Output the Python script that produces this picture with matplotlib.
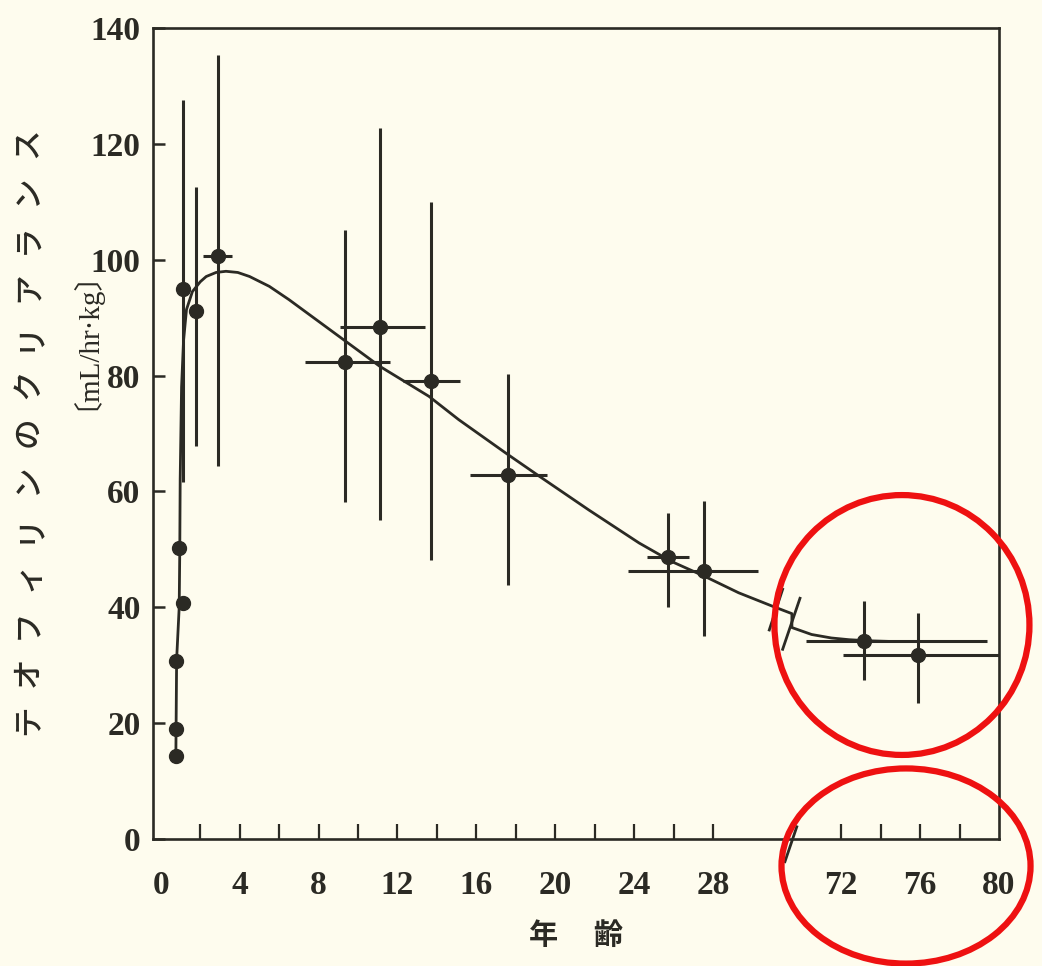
import numpy as np
import matplotlib.pyplot as plt
from matplotlib.patches import Ellipse
from matplotlib.lines import Line2D

# Datos (edad en anos, clearance en mL/hr/kg)
infant_age = [0.76, 0.76, 0.76, 0.93, 1.13]
infant_cl = [14.3, 19.0, 30.7, 50.2, 40.8]

group_age = [1.10, 1.77, 2.91, 9.33, 11.1, 13.68, 17.58, 25.73, 27.55, 73.15, 75.9]
group_cl = [94.9, 91.1, 100.6, 82.3, 88.3, 79.1, 62.9, 48.7, 46.3, 34.1, 31.8]
cl_low = [61.7, 67.8, 64.4, 58.2, 55.1, 48.2, 43.9, 40.0, 35.0, 27.5, 23.5]
cl_high = [127.6, 112.6, 135.4, 105.2, 122.8, 110.0, 80.3, 56.2, 58.3, 41.0, 39.0]
age_low = [1.10, 1.77, 2.15, 7.30, 9.08, 12.27, 15.70, 24.63, 23.67, 70.24, 72.1]
age_high = [1.10, 1.77, 3.59, 11.61, 13.39, 15.16, 19.59, 26.79, 30.29, 79.37, 80.0]

# Curva ajustada (puntos leidos)
curve_age = [0.76, 0.80, 0.93, 0.96, 0.98, 1.05, 1.15, 1.3, 1.6, 2.0, 2.3, 2.8, 3.3, 3.9, 4.5,
             5.5, 6.5, 9.06, 11.1, 13.6, 15.1, 17.5, 19.2, 21.7, 24.25, 25.9, 27.6, 29.3,
             31.0, 32.0, 69.5, 70.5, 71.5, 72.4, 73.5, 74.5]
curve_cl = [14.0, 31.0, 40.0, 50.0, 62.0, 78.0, 86.0, 91.4, 94.5, 96.2, 97.1, 97.8, 98.0,
            97.8, 97.1, 95.4, 93.1, 86.7, 81.6, 76.4, 72.4, 66.6, 62.6, 56.8, 51.1, 47.9,
            45.3, 42.5, 40.2, 38.9, 36.5, 35.3, 34.7, 34.4, 34.2, 34.1]

xtick_labels = [0, 4, 8, 12, 16, 20, 24, 28, 72, 76, 80]
xtick_marks = [2, 4, 6, 8, 10, 12, 14, 16, 18, 20, 22, 24, 26, 28, 72, 74, 76, 78]
yticks = [0, 20, 40, 60, 80, 100, 120, 140]

# Eje x cortado entre 32 y 69.5
cut_a = 32.0
cut_b = 69.5
shift = cut_b - cut_a


def fwd(x):
    x = np.asarray(x, dtype=float)
    return np.where(x <= cut_a, x, np.where(x >= cut_b, x - shift, cut_a))


def inv(y):
    y = np.asarray(y, dtype=float)
    return np.where(y <= cut_a, y, y + shift)


bg = '#fefcee'
ink = '#2b2a24'
serif = ['Liberation Serif', 'DejaVu Serif']
cjk = ['Noto Sans CJK JP', 'DejaVu Sans']

fig = plt.figure(figsize=(10.42, 9.66), dpi=100)
fig.patch.set_facecolor(bg)
ax = fig.add_axes([0.1468, 0.1315, 0.8119, 0.8395])
ax.set_facecolor(bg)
ax.set_xscale('function', functions=(fwd, inv))
ax.set_xlim(-0.4, 80)
ax.set_ylim(0, 140)

for s in ax.spines.values():
    s.set_linewidth(1.9)
    s.set_color(ink)

# curva
ax.plot(curve_age, curve_cl, color=ink, lw=2.0, zorder=3)

# barras de error
xerr = [np.array(group_age) - np.array(age_low), np.array(age_high) - np.array(group_age)]
yerr = [np.array(group_cl) - np.array(cl_low), np.array(cl_high) - np.array(group_cl)]
ax.errorbar(group_age, group_cl, xerr=xerr, yerr=yerr, fmt='o', color=ink,
            ms=10, elinewidth=2.2, capsize=0, zorder=4)
ax.plot(infant_age, infant_cl, 'o', color=ink, ms=10, zorder=4)

# ticks
ax.xaxis.remove_overlapping_locs = False
ax.set_xticks(xtick_labels)
ax.set_xticklabels([str(v) for v in xtick_labels], fontfamily=serif,
                   fontweight='bold', fontsize=24)
ax.set_xticks(xtick_marks, minor=True)
ax.tick_params(axis='x', which='major', length=0, pad=22)
ax.tick_params(axis='x', which='minor', direction='in', length=11, width=1.6, color=ink)
ax.set_yticks(yticks)
ax.set_yticklabels([str(v) for v in yticks], fontfamily=serif,
                   fontweight='bold', fontsize=24)
ax.tick_params(axis='y', direction='in', length=8.5, width=1.8, color=ink, pad=9)
for lab in ax.get_xticklabels() + ax.get_yticklabels():
    lab.set_color(ink)

# marcas de corte
ax.add_line(Line2D([0.747, 0.761], [-0.028, 0.015], transform=ax.transAxes,
                   color=ink, lw=2.0, clip_on=False))
ax.add_line(Line2D([0.7285, 0.7443], [0.2577, 0.3079], transform=ax.transAxes,
                   color=ink, lw=2.0))
ax.add_line(Line2D([0.7443, 0.7648], [0.2339, 0.2968], transform=ax.transAxes,
                   color=ink, lw=2.0))

# etiquetas
ax.set_xlabel('年 \u3000齢', fontfamily=cjk, fontweight='bold', fontsize=21, color=ink)
ax.xaxis.set_label_coords(0.5, -0.10)

ylab = 'テオフィリンのクリアランス'
pitch = (720 - 143) / (len(ylab) - 1)
for i, ch in enumerate(ylab):
    fig.text(28 / 1042, 1 - (720 - i * pitch) / 966, ch, rotation=90,
             ha='center', va='center', fontfamily=cjk, fontweight='medium',
             fontsize=22, color=ink)
fig.text(70 / 1042, 1 - 325 / 966, '〔mL/hr·kg〕', rotation=90, ha='center', va='center',
         fontfamily=['Liberation Serif', 'Noto Sans CJK JP'], fontsize=21, color=ink)

# circulos rojos
fig.add_artist(Ellipse((0.8656, 0.353), 0.2447, 0.269, transform=fig.transFigure,
                       fill=False, ec='#ee1111', lw=4.5))
fig.add_artist(Ellipse((0.8695, 0.1035), 0.239, 0.202, transform=fig.transFigure,
                       fill=False, ec='#ee1111', lw=4.5))

fig.savefig('out.png', dpi=100, facecolor=bg)
